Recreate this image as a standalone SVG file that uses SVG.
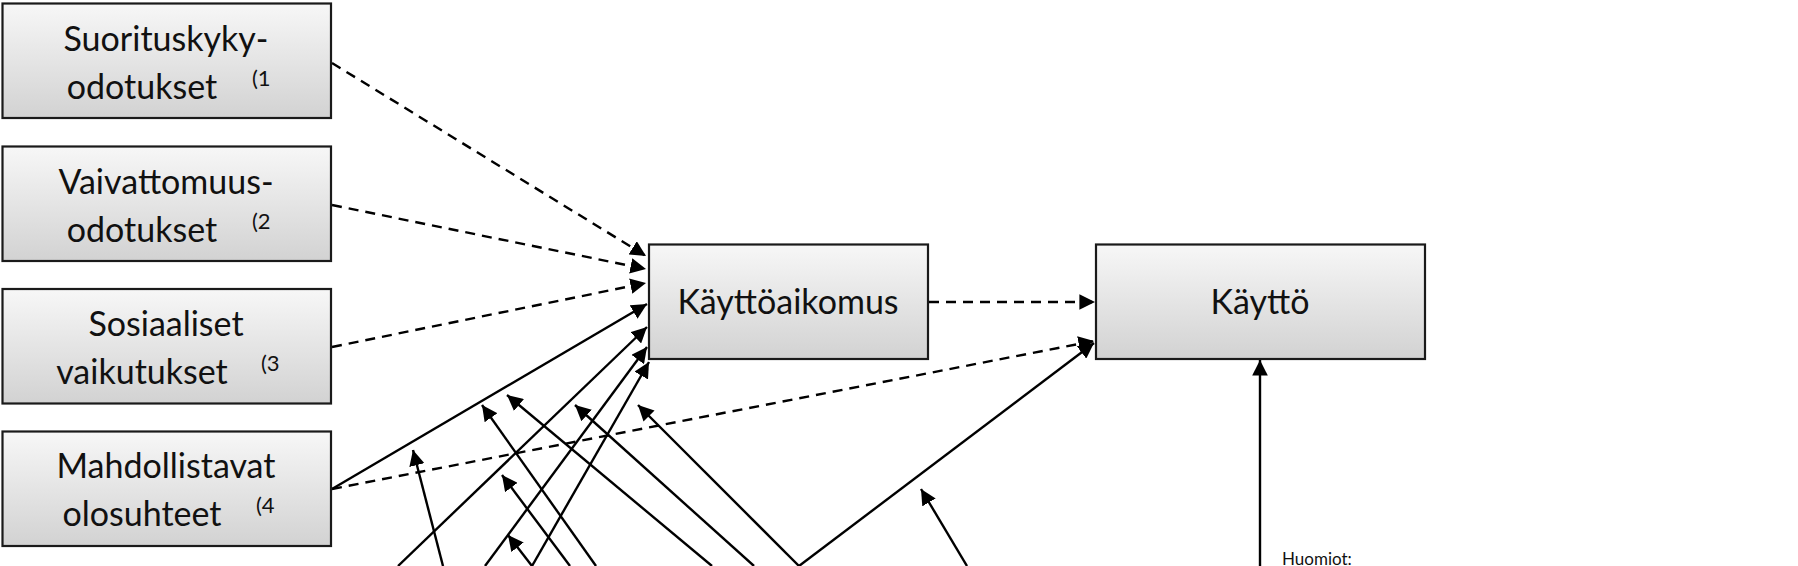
<svg xmlns="http://www.w3.org/2000/svg" width="1798" height="566" viewBox="0 0 1798 566">
<style>
.box{fill:url(#g);stroke:#1a1a1a;stroke-width:2.2}
.t{font-family:Lato,"Open Sans",sans-serif;font-size:34px;fill:#111;text-anchor:middle}
.s{font-family:Lato,"Open Sans",sans-serif;font-size:22px;fill:#111}
.c{stroke:#000;stroke-width:2.4;fill:none;marker-end:url(#a)}
.d{stroke-dasharray:10,7}
</style>
<defs>
<linearGradient id="g" x1="0" y1="0" x2="0" y2="1"><stop offset="0" stop-color="#f7f7f7"/><stop offset="1" stop-color="#d2d2d2"/></linearGradient>
<marker id="a" viewBox="0 0 10 10" refX="10" refY="5" markerWidth="6.5" markerHeight="6.5" orient="auto"><path d="M0,0L10,5L0,10z" fill="#000"/></marker>
</defs>
<rect width="1798" height="566" fill="#fff"/>
<g id="connectors">
<line class="c d" x1="332" y1="63" x2="646" y2="256"/>
<line class="c d" x1="332" y1="205" x2="646" y2="269"/>
<line class="c d" x1="332" y1="347" x2="646" y2="283"/>
<line class="c d" x1="332" y1="489" x2="1094" y2="341"/>
<line class="c d" x1="929" y1="302" x2="1095" y2="302"/>
<line class="c" x1="332" y1="489" x2="647" y2="304"/>
<line class="c" x1="398" y1="566" x2="647" y2="327"/>
<line class="c" x1="485" y1="566" x2="647" y2="347"/>
<line class="c" x1="532" y1="566" x2="649" y2="362"/>
<line class="c" x1="443" y1="566" x2="413" y2="450"/>
<line class="c" x1="596" y1="566" x2="482" y2="405"/>
<line class="c" x1="712" y1="566" x2="507" y2="395"/>
<line class="c" x1="570" y1="566" x2="502" y2="475"/>
<line class="c" x1="532" y1="566" x2="508" y2="535"/>
<line class="c" x1="754" y1="566" x2="575" y2="405"/>
<line class="c" x1="799" y1="566" x2="638" y2="405"/>
<line class="c" x1="799" y1="566" x2="1094" y2="343"/>
<line class="c" x1="967" y1="566" x2="921" y2="489"/>
<line class="c" x1="1260" y1="566" x2="1260" y2="360"/>
</g>
<g id="n1"><rect class="box" x="2.5" y="3.5" width="328.5" height="114.5"/><text class="t" x="166" y="51">Suorituskyky-</text><text class="t" x="142" y="99">odotukset</text><text class="s" x="252" y="86">(1</text></g>
<g id="n2"><rect class="box" x="2.5" y="146.5" width="328.5" height="114.5"/><text class="t" x="166" y="194">Vaivattomuus-</text><text class="t" x="142" y="242">odotukset</text><text class="s" x="252" y="229">(2</text></g>
<g id="n3"><rect class="box" x="2.5" y="289" width="328.5" height="114.5"/><text class="t" x="166" y="336">Sosiaaliset</text><text class="t" x="142" y="384">vaikutukset</text><text class="s" x="261" y="371">(3</text></g>
<g id="n4"><rect class="box" x="2.5" y="431.5" width="328.5" height="114.5"/><text class="t" x="166" y="478">Mahdollistavat</text><text class="t" x="142" y="526">olosuhteet</text><text class="s" x="256" y="513">(4</text></g>
<g id="n5"><rect class="box" x="649" y="244.5" width="279" height="114.5"/><text class="t" x="788" y="314">Käyttöaikomus</text></g>
<g id="n6"><rect class="box" x="1096" y="244.5" width="329" height="114.5"/><text class="t" x="1260" y="314">Käyttö</text></g>
<text x="1282" y="565" font-family="Lato,'Open Sans',sans-serif" font-size="17" fill="#111">Huomiot:</text>
</svg>
